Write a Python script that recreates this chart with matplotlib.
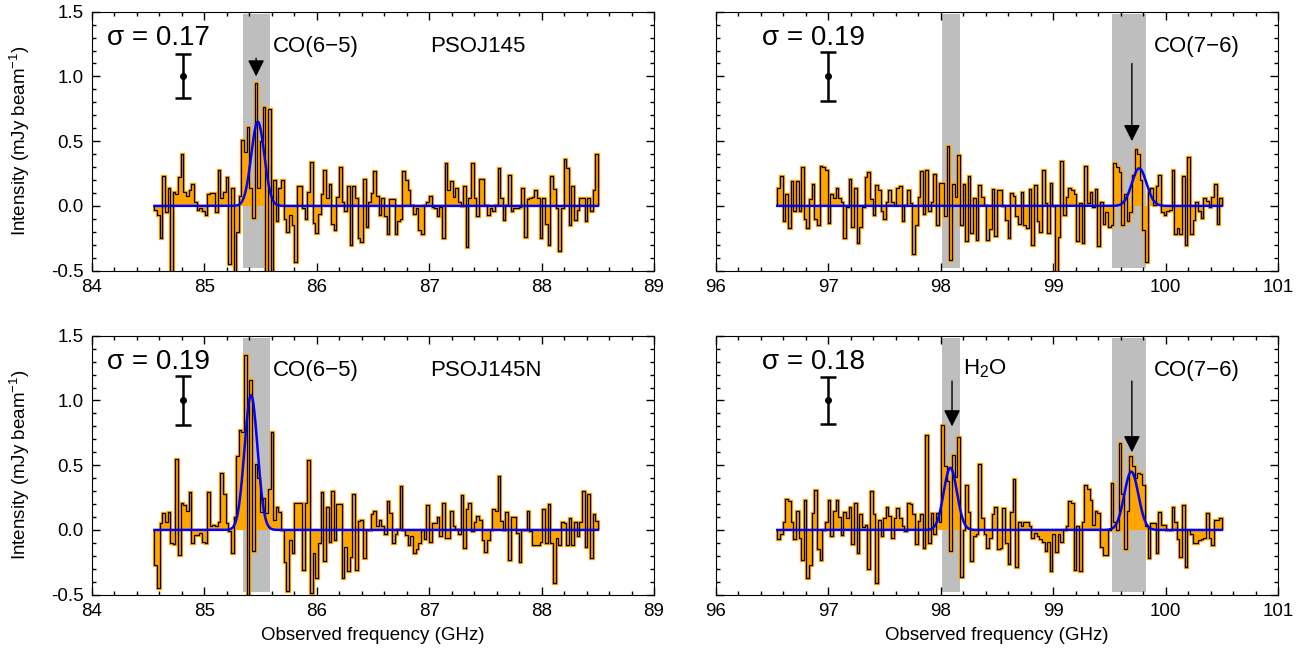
import numpy as np
import matplotlib.pyplot as plt
from matplotlib.ticker import MultipleLocator

plt.rcParams['font.family'] = ['Liberation Sans', 'DejaVu Sans']
plt.rcParams['mathtext.fontset'] = 'custom'
plt.rcParams['mathtext.rm'] = 'Liberation Sans'
plt.rcParams['mathtext.it'] = 'Liberation Sans:italic'

# spectral range covered by the channels (GHz)
range_low = (84.555, 88.50)
range_high = (96.546, 100.50)

# PSOJ145, CO(6-5) side (mJy/beam)
flux_tl = [-0.03, -0.07, -0.25, 0.23, -0.05, 0.14, -0.55, 0.11, 0.09, 0.22,
           0.40, 0.11, 0.08, 0.12, 0.17, 0.03, -0.03, -0.02, -0.04, -0.07,
           0.09, 0.10, 0.10, -0.05, 0.28, 0.06, 0.11, 0.22, -0.45, 0.14,
           -0.52, -0.20, 0.08, 0.51, 0.42, 0.61, 0.14, -0.09, 0.95, 0.14,
           0.50, 0.76, -0.55, 0.75, -0.55, 0.20, -0.12, 0.14, 0.20, -0.10,
           -0.20, -0.07, -0.15, -0.43, 0.15,
           0.15, -0.02, -0.10, 0.11, 0.34, -0.13, -0.21, -0.06, 0.09, 0.28,
           0.06, 0.17, -0.14, -0.19, 0.07, 0.30, 0.03, -0.04, 0.15, -0.30,
           0.15, 0.06, -0.25, -0.28, 0.21, -0.16, 0.03, 0.10, 0.27, 0.08,
           -0.07, 0.06, -0.08, -0.22, 0.05, 0.05, -0.22, -0.12, -0.10, 0.27,
           0.20, 0.12, 0.01, -0.06, -0.02, -0.19, -0.22, 0.01, 0.03, 0.08,
           -0.01, -0.02, -0.08, -0.01, -0.25, 0.33, 0.12,
           0.19, 0.07, 0.14, 0.03, 0.00, 0.15, -0.32, 0.06,
           0.33, 0.06, -0.08, 0.21, 0.21, 0.01, -0.07, -0.02, -0.04, 0.01,
           0.29, 0.06, -0.11, 0.01, 0.24, -0.04, -0.02, -0.02, -0.01, 0.14,
           -0.24, 0.05, 0.06, 0.07, 0.12, 0.06, -0.25, 0.06, -0.14, -0.30,
           0.23, 0.13, -0.02, -0.35, -0.02, 0.36, 0.29, -0.15, 0.15, -0.11,
           -0.03, 0.06, 0.06, -0.12, 0.06, -0.04, 0.12, 0.40]

# PSOJ145, CO(7-6) side
flux_tr = [0.14, 0.23, -0.12, 0.09, -0.17, 0.19, -0.04, 0.19, -0.04, 0.30,
           -0.10, -0.17, 0.05, 0.17, -0.10, -0.15, 0.31, 0.30, 0.28, -0.13,
           0.09, 0.06, 0.14, 0.06, 0.03, -0.25, -0.01, 0.21, -0.16, 0.14,
           -0.29, -0.16, -0.01, 0.22, 0.26, 0.05, -0.07, 0.16, 0.12, -0.04,
           -0.10, 0.03, 0.12, 0.03, 0.01, 0.14, 0.15, -0.12, 0.01, 0.12,
           0.02, -0.37, -0.15, 0.07,
           0.27, -0.06, 0.28, -0.04, 0.03, 0.25, -0.15, 0.18, 0.18, -0.08,
           0.46, -0.42, 0.17, 0.07, 0.39, -0.15, 0.17, -0.27, 0.23, -0.21,
           0.06, -0.26, 0.16, 0.07, 0.01, -0.26, -0.18, 0.13, -0.23, 0.12,
           0.12, 0.00, -0.11, -0.25, 0.10, 0.08, -0.08, -0.14, 0.11, -0.15,
           -0.17, 0.13, -0.30, 0.16, -0.12, -0.20, 0.28, 0.02, -0.21, 0.18,
           0.00, -0.55, -0.24, 0.35, -0.07, 0.07, 0.14, 0.12,
           0.09, -0.27, 0.02, -0.29, 0.31, 0.02, 0.11, -0.01,
           0.13, -0.31, 0.03, -0.14, -0.05, -0.16, -0.15, 0.33, 0.30, 0.26,
           -0.15, 0.09, -0.12, -0.05, 0.24, 0.44, 0.40, 0.20, -0.19, -0.43,
           0.11, 0.14, 0.01, 0.15, 0.24, -0.05, -0.07, -0.04, -0.03, 0.28,
           -0.22, -0.17, -0.22, 0.23, -0.30, 0.38, -0.22, -0.11, 0.03, -0.04,
           -0.09, 0.06, 0.04, -0.01, 0.07, 0.17, -0.14, 0.06]

# PSOJ145N, CO(6-5) side
flux_bl = [-0.27, -0.45, 0.05, 0.13, 0.06, 0.14, -0.10, -0.11, 0.55, -0.19,
           0.21, 0.19, 0.15, 0.29, -0.10, -0.04, -0.04, -0.02, -0.09, -0.10,
           0.29, 0.03, 0.04, 0.03, 0.06, 0.44, 0.28, 0.05, -0.01, -0.18,
           0.10, 0.57, 0.77, 0.76, 1.35, -0.55, 1.16, -0.16, 0.51, 0.40,
           0.14, 0.25, 0.13, 0.32, 0.76, 0.08, 0.18, 0.14, 0.00, -0.25,
           -0.47, -0.08, -0.18, 0.21, 0.21,
           0.21, -0.31, 0.21, 0.54, -0.49, -0.18, -0.37, -0.10, 0.29, -0.24,
           0.18, -0.09, 0.30, -0.08, 0.20, 0.20, -0.37, -0.13, -0.32, -0.21,
           0.28, -0.31, 0.07, 0.08, -0.22, 0.00, 0.00, 0.12, 0.15, 0.03,
           0.08, 0.03, -0.03, 0.22, 0.13, -0.10, -0.03, 0.01, 0.34, 0.00,
           -0.04, -0.12, -0.05, -0.18, -0.15, -0.10, 0.00, -0.07, 0.19, -0.09,
           0.05, 0.05, 0.10, -0.05, 0.21, -0.06,
           -0.06, 0.15, 0.03, 0.01, -0.03, 0.27, -0.14, 0.16, 0.21,
           -0.01, 0.06, 0.11, 0.08, -0.08, -0.17, -0.08, 0.00, 0.16, 0.15,
           0.42, 0.07, 0.00, 0.14, -0.23, 0.10, 0.10, -0.02, -0.25, 0.00,
           0.00, 0.15, -0.01, -0.12, -0.12, -0.12, -0.09, 0.16, -0.10, 0.20,
           -0.10, -0.41, -0.06, -0.12, 0.06, 0.05, -0.12, 0.09, -0.12, 0.06,
           -0.05, 0.06, 0.30, -0.13, 0.28, -0.22, 0.12, 0.07]

# PSOJ145N, H2O + CO(7-6) side
flux_br = [-0.07, -0.03, 0.06, 0.24, 0.22, 0.06, -0.07, 0.15, -0.06, -0.23,
           0.23, -0.37, -0.27, 0.13, 0.31, -0.15, -0.23, 0.00, 0.06, 0.23,
           -0.05, 0.15, 0.23, 0.10, -0.04, 0.14, 0.09, 0.18, -0.11, 0.21,
           -0.18, 0.12, 0.02, 0.04, -0.30, 0.30, 0.12, -0.41, 0.08, -0.05,
           0.09, 0.18, 0.11, -0.06, 0.09, 0.17, 0.09, 0.03, -0.01, 0.21,
           0.20, 0.12, -0.11, 0.07,
           0.12, -0.14, 0.73, -0.10, 0.13, -0.03, 0.13, 0.06, 0.81, 0.49,
           0.38, -0.16, 0.58, 0.41, 0.72, -0.36, 0.00, 0.35, 0.14, -0.24,
           -0.05, -0.03, 0.51, 0.09, -0.03, -0.14, -0.06, 0.12, 0.18, -0.15,
           -0.14, 0.17, -0.10, -0.26, 0.14, 0.39, -0.29, 0.06, 0.03, 0.06,
           0.06, 0.03, -0.06, -0.02, -0.05, -0.07, -0.09, -0.16, -0.09, -0.32,
           -0.03, -0.17, -0.03, -0.09, 0.00, 0.03, 0.22, 0.21,
           -0.31, 0.03, -0.32, 0.06, 0.35, 0.32, 0.23, 0.04,
           0.15, 0.13, -0.13, -0.19, -0.19, 0.00, 0.36, 0.06, 0.00, 0.67,
           0.28, -0.15, 0.15, 0.57, 0.49, 0.40, 0.44, 0.43, 0.35, 0.03,
           -0.22, 0.05, 0.05, -0.18, 0.14, 0.04, 0.04, 0.00, 0.00, 0.18,
           0.06, -0.07, -0.21, 0.19, -0.29, 0.00, -0.03, -0.10, -0.10, -0.08,
           -0.07, -0.06, 0.13, -0.06, -0.12, 0.08, 0.08, 0.09]

# gaussian fits: (peak, centre GHz, sigma GHz)
fit_tl = [(0.65, 85.475, 0.058)]
fit_tr = [(0.29, 99.765, 0.065)]
fit_bl = [(1.04, 85.415, 0.058)]
fit_br = [(0.48, 98.085, 0.059), (0.45, 99.695, 0.063)]

# grey line windows (GHz)
bands_low = [(85.34, 85.58)]
bands_high = [(98.01, 98.17), (99.52, 99.83)]

rms = [0.17, 0.19, 0.19, 0.18]
errbar_x = [84.81, 97.0, 84.81, 97.0]


def draw_panel(ax, flux, rng, fits, bands, sig, ex, xlim):
    for b0, b1 in bands:
        ax.axvspan(b0, b1, ymin=0.01, ymax=0.99, color='#bebebe', lw=0, zorder=0)
    edges = np.linspace(rng[0], rng[1], len(flux) + 1)
    ax.stairs(flux, edges, baseline=0, fill=True, color='orange', lw=0, zorder=1)
    ax.stairs(flux, edges, baseline=0, color='orange', lw=2.4, zorder=2)
    ax.stairs(flux, edges, baseline=0, color='black', lw=0.9, zorder=3)
    xx = np.linspace(rng[0], rng[1], 1000)
    model = np.zeros_like(xx)
    for amp, cen, wid in fits:
        model += amp * np.exp(-0.5 * ((xx - cen) / wid) ** 2)
    ax.plot(xx, model, color='#0000ff', lw=1.8, zorder=4)
    ax.errorbar([ex], [1.0], yerr=[sig], fmt='o', color='k', ms=4,
                capsize=6, elinewidth=1.8, capthick=1.8, zorder=5)
    ax.text(xlim[0] + 0.135 + (0.275 if xlim[0] > 90 else 0), 1.245,
            '\u03c3 = %.2f' % sig, fontsize=20, ha='left', va='baseline')
    ax.set_xlim(*xlim)
    ax.set_ylim(-0.5, 1.5)
    ax.xaxis.set_major_locator(MultipleLocator(1))
    ax.xaxis.set_minor_locator(MultipleLocator(0.2))
    ax.yaxis.set_major_locator(MultipleLocator(0.5))
    ax.yaxis.set_minor_locator(MultipleLocator(0.1))
    ax.tick_params(which='both', direction='in', top=True, right=True,
                   labelsize=13.5, width=1, pad=6)
    ax.tick_params(which='major', length=6)
    ax.tick_params(which='minor', length=3)
    ax.yaxis.set_major_formatter(plt.FuncFormatter(lambda v, p: '%.1f' % v))


def arrow(ax, x, y0, y1):
    ax.annotate('', xy=(x, y1), xytext=(x, y0),
                arrowprops=dict(arrowstyle='-|>,head_length=0.5,head_width=0.25',
                                color='k', lw=1, mutation_scale=20,
                                shrinkA=0, shrinkB=0), zorder=6)


fig = plt.figure(figsize=(13.12, 6.49), dpi=100)
ax_tl = fig.add_axes([0.0701, 0.583, 0.4284, 0.399])
ax_tr = fig.add_axes([0.5457, 0.583, 0.4284, 0.399])
ax_bl = fig.add_axes([0.0701, 0.0837, 0.4284, 0.399])
ax_br = fig.add_axes([0.5457, 0.0837, 0.4284, 0.399])

draw_panel(ax_tl, flux_tl, range_low, fit_tl, bands_low, rms[0], errbar_x[0], (84, 89))
draw_panel(ax_tr, flux_tr, range_high, fit_tr, bands_high, rms[1], errbar_x[1], (96, 101))
draw_panel(ax_bl, flux_bl, range_low, fit_bl, bands_low, rms[2], errbar_x[2], (84, 89))
draw_panel(ax_br, flux_br, range_high, fit_br, bands_high, rms[3], errbar_x[3], (96, 101))

for ax in (ax_tr, ax_br):
    ax.tick_params(labelleft=False)

for ax in (ax_tl, ax_bl):
    ax.set_ylabel('Intensity (mJy beam$^{\u22121}$)', fontsize=13.5, labelpad=14)
for ax in (ax_bl, ax_br):
    ax.set_xlabel('Observed frequency (GHz)', fontsize=13.5, labelpad=5)

ax_tl.text(85.61, 1.19, 'CO(6\u22125)', fontsize=16)
ax_tl.text(87.01, 1.19, 'PSOJ145', fontsize=16)
ax_bl.text(85.61, 1.19, 'CO(6\u22125)', fontsize=16)
ax_bl.text(87.01, 1.19, 'PSOJ145N', fontsize=16)
ax_tr.text(99.90, 1.19, 'CO(7\u22126)', fontsize=16)
ax_br.text(99.90, 1.19, 'CO(7\u22126)', fontsize=16)
ax_br.text(98.20, 1.20, 'H$_2$O', fontsize=16)

arrow(ax_tl, 85.46, 1.14, 1.0)
arrow(ax_tr, 99.70, 1.10, 0.50)
arrow(ax_br, 98.10, 1.15, 0.80)
arrow(ax_br, 99.70, 1.15, 0.60)

fig.savefig('out.png', dpi=100)
